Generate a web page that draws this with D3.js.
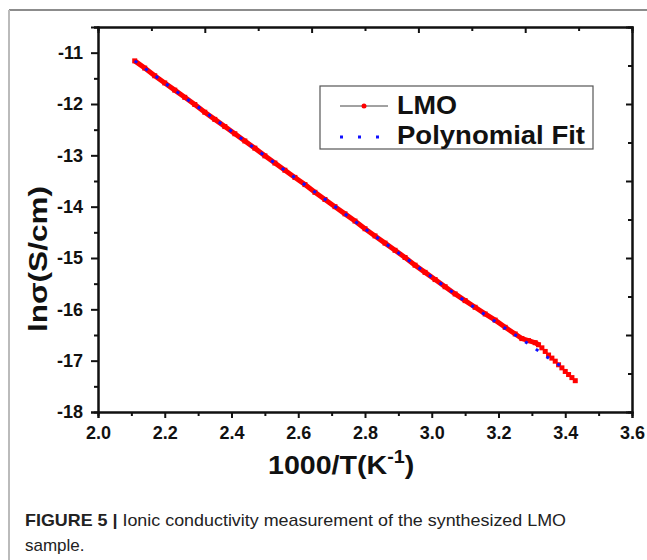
<!DOCTYPE html>
<html><head><meta charset="utf-8">
<script src="https://cdn.jsdelivr.net/npm/d3@7/dist/d3.min.js"></script>
<style>
body{margin:0;background:#fff;}
svg{display:block;}
</style></head>
<body>
<svg id="c" width="647" height="560"></svg>
<script>
// ---- data ----
const lmoX = [2.11,2.14,2.17,2.20,2.23,2.26,2.29,2.32,2.35,2.38,2.41,2.44,2.47,2.50,2.53,2.56,2.59,2.62,2.65,2.68,2.71,2.74,2.77,2.80,2.83,2.86,2.89,2.92,2.95,2.98,3.01,3.04,3.07,3.10,3.13,3.16,3.19,3.22,3.25,3.27,3.29,3.31,3.32,3.33,3.34,3.35,3.36,3.37,3.38,3.39,3.40,3.41,3.42,3.43];
const lmoY = [-11.16,-11.30,-11.45,-11.59,-11.73,-11.87,-12.01,-12.16,-12.30,-12.44,-12.58,-12.72,-12.86,-13.01,-13.15,-13.29,-13.43,-13.57,-13.72,-13.86,-14.00,-14.14,-14.28,-14.43,-14.57,-14.71,-14.85,-14.99,-15.14,-15.28,-15.42,-15.56,-15.70,-15.83,-15.96,-16.09,-16.21,-16.35,-16.48,-16.57,-16.61,-16.65,-16.69,-16.75,-16.82,-16.89,-16.95,-17.01,-17.08,-17.14,-17.21,-17.27,-17.33,-17.39];
const fitX = [2.11,2.20,2.30,2.40,2.50,2.60,2.70,2.80,2.90,3.00,3.10,3.20,3.30,3.35,3.40];
const fitY = [-11.16,-11.59,-12.06,-12.53,-13.01,-13.48,-13.95,-14.43,-14.90,-15.37,-15.84,-16.28,-16.72,-16.95,-17.16];
const xTicks = [2.0,2.2,2.4,2.6,2.8,3.0,3.2,3.4,3.6];
const yTicks = [-18,-17,-16,-15,-14,-13,-12,-11];
const legendLabels = ["LMO","Polynomial Fit"];

const svg = d3.select("#c");
const L=98, R=632, T=27, B=412;
const x = d3.scaleLinear().domain([2.0,3.6]).range([L,R]);
const y = d3.scaleLinear().domain([-18,-10.5]).range([B,T]);

// figure frame
svg.append("line").attr("x1",9).attr("x2",647).attr("y1",10).attr("y2",10).attr("stroke","#666").attr("stroke-width",1.5);
svg.append("line").attr("x1",9).attr("x2",9).attr("y1",10).attr("y2",560).attr("stroke","#bbb").attr("stroke-width",2);

const font = "'Liberation Sans', Arial, sans-serif";

// bottom axis
svg.append("g").attr("transform",`translate(0,${B})`)
  .call(d3.axisBottom(x).tickValues(xTicks).tickFormat(d=>d.toFixed(1)).tickSize(6).tickPadding(8));
svg.append("g").attr("transform",`translate(0,${B})`)
  .call(d3.axisBottom(x).tickValues(xTicks.slice(0,-1).map(v=>v+0.1)).tickSize(4).tickFormat(""));
// left axis
svg.append("g").attr("transform",`translate(${L},0)`)
  .call(d3.axisLeft(y).tickValues(yTicks).tickFormat(d=>String(d)).tickSize(7).tickPadding(8));
svg.append("g").attr("transform",`translate(${L},0)`)
  .call(d3.axisLeft(y).tickValues(yTicks.map(v=>v+0.5)).tickSize(4).tickFormat(""));
// top & right mirrored axes (10 intervals, inward ticks)
const tx = d3.scaleLinear().domain([0,10]).range([L,R]);
const ty = d3.scaleLinear().domain([0,10]).range([T,B]);
svg.append("g").attr("transform",`translate(0,${T})`)
  .call(d3.axisBottom(tx).tickValues([2,4,6,8]).tickSize(6).tickFormat(""));
svg.append("g").attr("transform",`translate(0,${T})`)
  .call(d3.axisBottom(tx).tickValues([1,3,5,7,9]).tickSize(4).tickFormat(""));
svg.append("g").attr("transform",`translate(${R},0)`)
  .call(d3.axisLeft(ty).tickValues([2,4,6,8]).tickSize(6).tickFormat(""));
svg.append("g").attr("transform",`translate(${R},0)`)
  .call(d3.axisLeft(ty).tickValues([1,3,5,7,9]).tickSize(4).tickFormat(""));

svg.selectAll(".domain").attr("stroke","#111").attr("stroke-width",2);
svg.selectAll(".tick line").attr("stroke","#111").attr("stroke-width",2);
svg.selectAll(".tick text").style("font-family",font).style("font-weight","bold").style("font-size","18px").attr("fill","#111");

// axis titles
const xtg = svg.append("g").attr("transform",`translate(268,474) scale(1.1,1)`);
const xt = xtg.append("text").attr("x",0).attr("y",0)
  .attr("font-family",font).attr("font-weight","bold").attr("font-size",26).attr("fill","#111");
xt.append("tspan").text("1000/T(K");
xt.append("tspan").text("-1").attr("font-size",18).attr("dy",-11);
xt.append("tspan").text(")").attr("dy",11);

svg.append("text").attr("transform",`translate(47,${259}) rotate(-90)`).attr("text-anchor","middle")
  .attr("font-family",font).attr("font-weight","bold").attr("font-size",26).attr("fill","#111")
  .attr("textLength",146).attr("lengthAdjust","spacingAndGlyphs")
  .text("lnσ(S/cm)");

// data
const lmo = lmoX.map((v,i)=>[v,lmoY[i]]);
const fit = fitX.map((v,i)=>[v,fitY[i]]);
const line = d3.line().x(d=>x(d[0])).y(d=>y(d[1]));
const lmoMain = lmo.filter(d=>d[0]<=3.32);
svg.append("path").datum(lmoMain).attr("d",line).attr("fill","none").attr("stroke","#ff0000").attr("stroke-width",5);
svg.append("g").selectAll("rect").data(lmo).join("rect")
  .attr("x",d=>x(d[0])-2.5).attr("y",d=>y(d[1])-2.5).attr("width",5).attr("height",5).attr("fill","#ff0000");
svg.append("path").datum(fit).attr("d",d3.line().curve(d3.curveMonotoneX).x(d=>x(d[0])).y(d=>y(d[1])))
  .attr("fill","none").attr("stroke","#1010ff").attr("stroke-width",3).attr("stroke-dasharray","3,10");

// legend
const lg = svg.append("g");
lg.append("rect").attr("x",320).attr("y",86).attr("width",273).attr("height",63).attr("fill","#fff").attr("stroke","#555").attr("stroke-width",1.2);
lg.append("line").attr("x1",340).attr("x2",388).attr("y1",106).attr("y2",106).attr("stroke","#444").attr("stroke-width",1);
lg.append("circle").attr("cx",364).attr("cy",106).attr("r",2.5).attr("fill","#ff0000");
lg.append("line").attr("x1",340).attr("x2",388).attr("y1",137).attr("y2",137).attr("stroke","#1010ff").attr("stroke-width",3).attr("stroke-dasharray","3,15");
const lgW = [60,188];
lg.selectAll("text.lg").data(legendLabels).join("text").attr("class","lg")
  .attr("x",397).attr("y",(d,i)=>114+i*30).attr("font-family",font).attr("font-weight","bold").attr("font-size",25).attr("fill","#111")
  .attr("textLength",(d,i)=>lgW[i]).attr("lengthAdjust","spacingAndGlyphs").text(d=>d);

// caption
const capFont = "'Liberation Sans', Arial, sans-serif";
const cap = svg.append("text").attr("x",25).attr("y",526).attr("font-family",capFont).attr("font-size",17).attr("fill","#222")
  .attr("textLength",541).attr("lengthAdjust","spacingAndGlyphs");
cap.append("tspan").attr("font-weight","bold").text("FIGURE 5 | ");
cap.append("tspan").text("Ionic conductivity measurement of the synthesized LMO");
svg.append("text").attr("x",25).attr("y",551).attr("font-family",capFont).attr("font-size",17).attr("fill","#222").text("sample.");
</script>
</body></html>
